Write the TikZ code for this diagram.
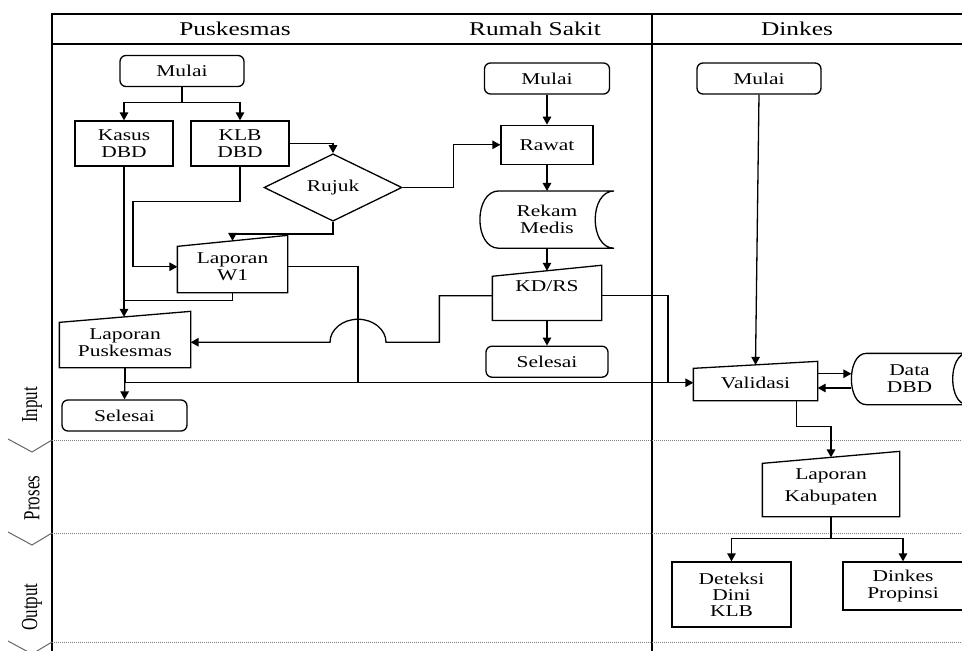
\documentclass[tikz,border=0pt]{standalone}
\usepackage{fontspec}
\setmainfont{Liberation Serif}[FakeStretch=1.3]
\newfontfamily\lanefont{Liberation Serif}
\usetikzlibrary{positioning, arrows.meta, shapes.geometric, calc}

\begin{document}
\begin{tikzpicture}[x=1pt,y=-1pt,line width=1.3pt,
        >={Triangle[length=8pt,width=8.5pt]},
        every node/.style={font=\fontsize{16.5}{17}\selectfont, align=center, inner sep=0pt},
        head/.style={font=\fontsize{19.5}{20}\selectfont},
        lane/.style={rotate=90, yscale=1.35, transform shape, font=\lanefont\fontsize{17}{17}\selectfont},
        term/.style={draw, rounded corners=6pt, minimum width=124pt, minimum height=31pt},
        proc/.style={draw, minimum width=98pt, minimum height=45pt},
        decide/.style={draw, diamond, minimum width=138pt, minimum height=51pt},
        phase/.style={gray, line width=1pt, dash pattern=on 1pt off 1pt}]
        \useasboundingbox (0,0) rectangle (962,651);

        % frame and lanes
        \draw (52,651) -- (52,14) -- (962,14);
        \draw (52,44) -- (962,44);
        \draw (652,14) -- (652,651);
        \foreach \y in {440,533,642} {
            \draw[phase] (52,\y) -- (962,\y);
            \draw[black!60, line width=1pt] (8,\y-1) -- (32,\y+12) -- (52,\y);
        }
        \node[head] (hPus) at (235,29) {Puskesmas};
        \node[head] (hRS) at (535,29) {Rumah Sakit};
        \node[head] (hDin) at (797,29) {Dinkes};
        \node[lane] (lIn) at (32,405) {Input};
        \node[lane] (lPro) at (32,498) {Proses};
        \node[lane] (lOut) at (32,607) {Output};

        % Puskesmas
        \node[term] (mulaiP) at (182,71) {Mulai};
        \node[proc] (kasus) at (124,143.5) {Kasus\\DBD};
        \node[proc] (klb) at (240,143.5) {KLB\\DBD};
        \node[decide] (rujuk) at (333,187.5) {Rujuk};
        \node[minimum width=109pt, minimum height=50.5pt] (lapW1) at (232.5,266.75) {Laporan\\W1};
        \node[minimum width=130pt, minimum height=49.5pt] (lapP) at (125,342.25) {Laporan\\Puskesmas};
        \node[term, minimum width=125pt] (selesaiP) at (124.5,415.5) {Selesai};

        % Rumah Sakit
        \node[term, minimum width=125pt] (mulaiR) at (547,78.5) {Mulai};
        \node[proc, minimum width=92pt, minimum height=39pt, below=30pt of mulaiR] (rawat) {Rawat};
        \node[minimum width=133pt, minimum height=56pt, below=26pt of rawat] (rekam) {Rekam\\Medis};
        \node[minimum width=108pt, minimum height=48.5pt, text height=11pt, text depth=19pt,
            below=22.5pt of rekam] (kdrs) {KD/RS};
        \node[term, minimum width=122pt, below=25pt of kdrs] (selesaiR) {Selesai};

        % Dinkes
        \node[term] (mulaiD) at (759,78.5) {Mulai};
        \node[minimum width=123pt, minimum height=34.5pt] (validasi) at (755.5,382.75) {Validasi};
        \node[minimum width=115pt, minimum height=50pt] (datadbd) at (909.5,379) {Data\\DBD};
        \node[minimum width=136pt, minimum height=58pt, font=\fontsize{16.5}{22}\selectfont] (lapK) at (831,487) {Laporan\\Kabupaten};
        \node[proc, minimum width=119pt, minimum height=65pt, font=\fontsize{16.5}{16}\selectfont] (deteksi) at (731.5,594.5) {Deteksi\\Dini\\KLB};
        \node[proc, minimum width=120pt, minimum height=48pt] (propinsi) at (903,586) {Dinkes\\Propinsi};

        % manual input and stored data outlines
        \foreach \n/\s in {lapW1/5.5, lapP/5.5, kdrs/5.5, validasi/3.5, lapK/6}
            \draw (\n.south west) -- ([yshift=-\s pt]\n.north west) -- ([yshift=\s pt]\n.north east)
                -- (\n.south east) -- cycle;
        \foreach \n/\d in {rekam/19, datadbd/15}
            \draw ([xshift=\d pt]\n.north west) -- (\n.north east)
                .. controls ([xshift=-1.33*\d pt]\n.north east) and ([xshift=-1.33*\d pt]\n.south east) .. (\n.south east)
                -- ([xshift=\d pt]\n.south west)
                .. controls ([xshift=-0.33*\d pt]\n.south west) and ([xshift=-0.33*\d pt]\n.north west) .. ([xshift=\d pt]\n.north west)
                -- cycle;

        \coordinate (xW) at (358,0);
        \coordinate (xK) at (668,0);

        % connectors
        \draw[->] (mulaiP.south) -- ++(0,15) -| (kasus.north);
        \draw[->] (mulaiP.south) -- ++(0,15) -| (klb.north);
        \draw[->] (klb.east) -| (rujuk.north);
        \draw[->] (klb.south) -- ++(0,35) -- ++(-107,0) |- (lapW1.west);
        \draw[->] (rujuk.south) -- ++(0,12) -| (lapW1.north);
        \draw[->] (kasus.south) -- (kasus.south |- lapP.north);
        \draw (lapW1.south) -- ++(0,8) -| (kasus.south);
        \draw[->] (lapP.south) -- (selesaiP.north);
        \draw[->] (lapP.south) |- (validasi.west);
        \draw (lapW1.east) -| (xW |- validasi.west);
        \draw[->] (kdrs.west) -- ++(-53,0) |- ($(xW |- lapP.east)+(28,0)$)
            arc[start angle=0, end angle=180, x radius=28pt, y radius=23pt] -- (lapP.east);
        \draw[->] (rujuk.east) -- ++(51,0) |- (rawat.west);
        \draw[->] (mulaiR.south) -- (rawat.north);
        \draw[->] (rawat.south) -- (rekam.north);
        \draw[->] (rekam.south) -- (kdrs.north);
        \draw[->] (kdrs.south) -- (selesaiR.north);
        \draw (kdrs.east) -| (xK |- validasi.west);
        \draw[->] (mulaiD.south) -- (validasi.north);
        \draw[->] ([yshift=9pt]validasi.east) -- ([yshift=9pt]validasi.east -| datadbd.west);
        \draw[->] ([yshift=-9pt]datadbd.west) -- ([yshift=-9pt]datadbd.west -| validasi.east);
        \draw[->] ([xshift=41pt]validasi.south) -- ++(0,26) -| (lapK.north);
        \draw[->] (lapK.south) -- ++(0,22) -| (deteksi.north);
        \draw[->] (lapK.south) -- ++(0,22) -| (propinsi.north);
    \end{tikzpicture}
\end{document}
